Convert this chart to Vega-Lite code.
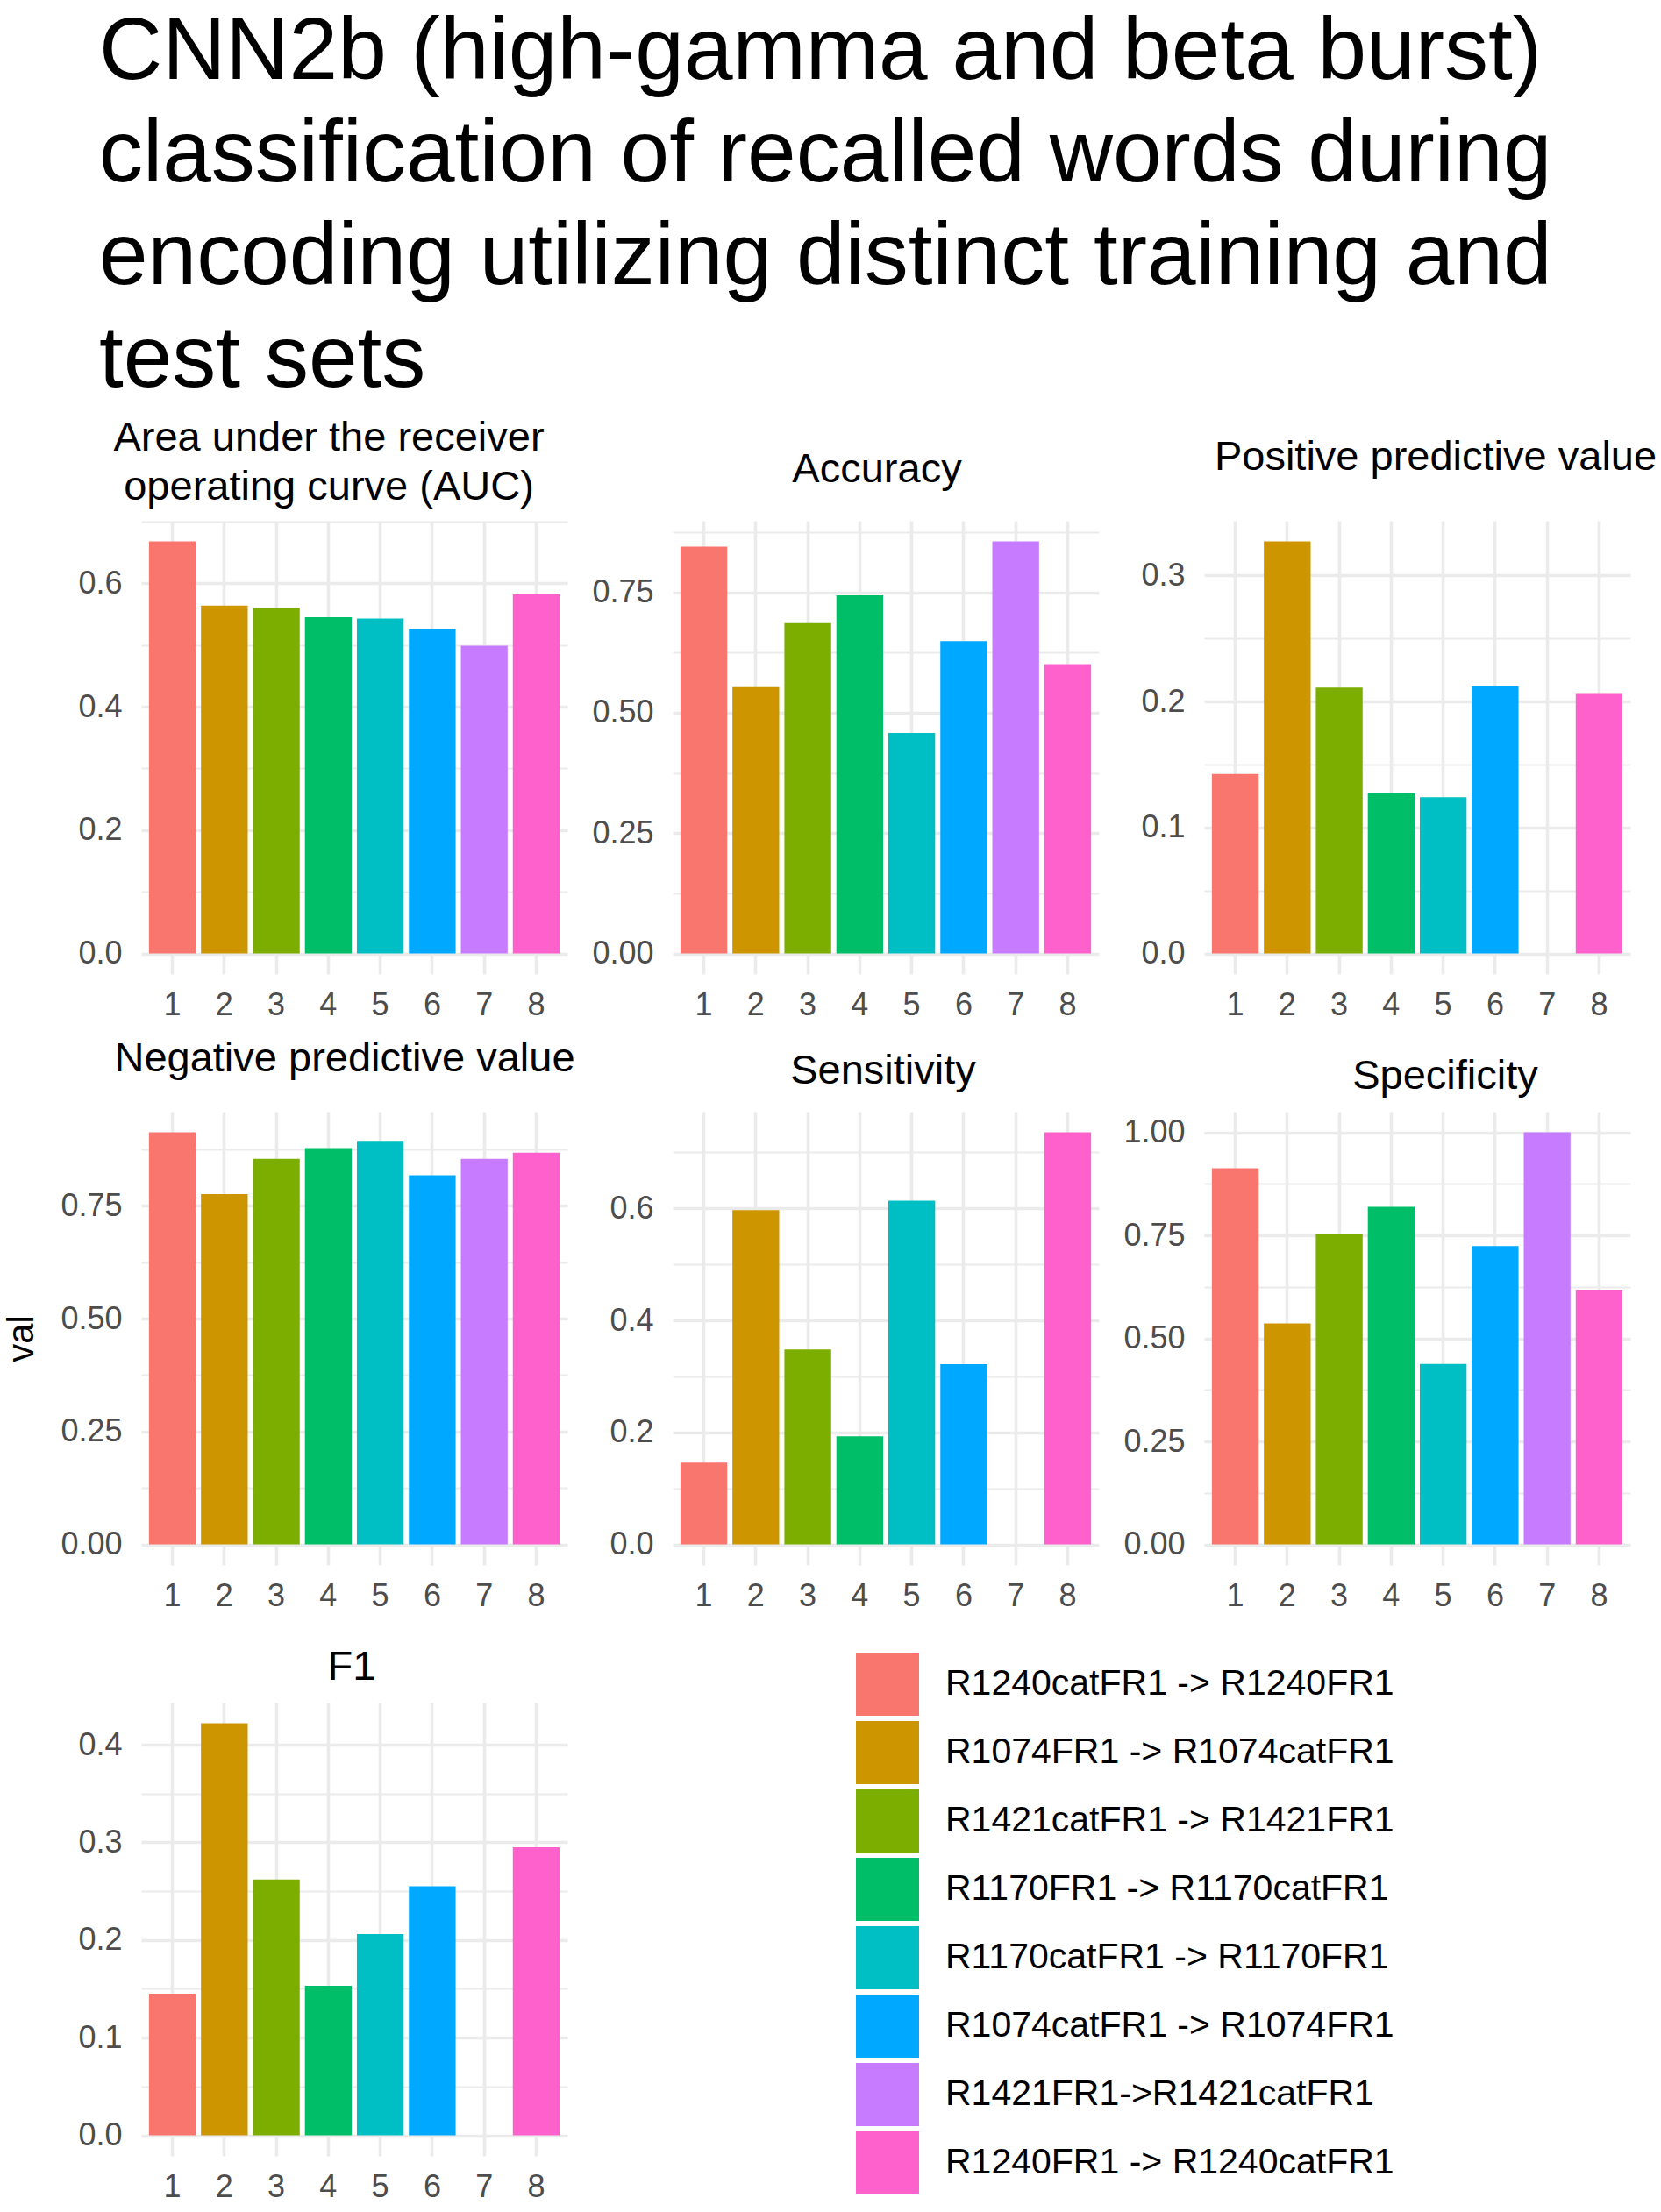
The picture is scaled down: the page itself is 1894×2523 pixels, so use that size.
{
  "$schema": "https://vega.github.io/schema/vega-lite/v6.json",
  "description": "CNN2b classification metrics per train/test pair, seven bar panels with a shared colour legend.",
  "background": "white",
  "padding": {"left": 3, "top": 10, "right": 0, "bottom": 0},
  "title": {
    "text": ["CNN2b (high-gamma and beta burst)", "classification of recalled words during", "encoding utilizing distinct training and", "test sets"],
    "fontSize": 100,
    "lineHeight": 117,
    "font": "Liberation Sans",
    "fontWeight": "normal",
    "color": "black",
    "anchor": "start",
    "offset": 14,
    "dx": 109
  },
  "data": {
    "values": [
      {"metric": "AUC", "id": 1, "group": "R1240catFR1 -> R1240FR1", "val": 0.668},
      {"metric": "AUC", "id": 2, "group": "R1074FR1 -> R1074catFR1", "val": 0.564},
      {"metric": "AUC", "id": 3, "group": "R1421catFR1 -> R1421FR1", "val": 0.560},
      {"metric": "AUC", "id": 4, "group": "R1170FR1 -> R1170catFR1", "val": 0.545},
      {"metric": "AUC", "id": 5, "group": "R1170catFR1 -> R1170FR1", "val": 0.543},
      {"metric": "AUC", "id": 6, "group": "R1074catFR1 -> R1074FR1", "val": 0.526},
      {"metric": "AUC", "id": 7, "group": "R1421FR1->R1421catFR1", "val": 0.499},
      {"metric": "AUC", "id": 8, "group": "R1240FR1 -> R1240catFR1", "val": 0.582},
      {"metric": "Accuracy", "id": 1, "group": "R1240catFR1 -> R1240FR1", "val": 0.845},
      {"metric": "Accuracy", "id": 2, "group": "R1074FR1 -> R1074catFR1", "val": 0.553},
      {"metric": "Accuracy", "id": 3, "group": "R1421catFR1 -> R1421FR1", "val": 0.686},
      {"metric": "Accuracy", "id": 4, "group": "R1170FR1 -> R1170catFR1", "val": 0.744},
      {"metric": "Accuracy", "id": 5, "group": "R1170catFR1 -> R1170FR1", "val": 0.458},
      {"metric": "Accuracy", "id": 6, "group": "R1074catFR1 -> R1074FR1", "val": 0.649},
      {"metric": "Accuracy", "id": 7, "group": "R1421FR1->R1421catFR1", "val": 0.856},
      {"metric": "Accuracy", "id": 8, "group": "R1240FR1 -> R1240catFR1", "val": 0.601},
      {"metric": "PPV", "id": 1, "group": "R1240catFR1 -> R1240FR1", "val": 0.1425},
      {"metric": "PPV", "id": 2, "group": "R1074FR1 -> R1074catFR1", "val": 0.327},
      {"metric": "PPV", "id": 3, "group": "R1421catFR1 -> R1421FR1", "val": 0.211},
      {"metric": "PPV", "id": 4, "group": "R1170FR1 -> R1170catFR1", "val": 0.127},
      {"metric": "PPV", "id": 5, "group": "R1170catFR1 -> R1170FR1", "val": 0.124},
      {"metric": "PPV", "id": 6, "group": "R1074catFR1 -> R1074FR1", "val": 0.212},
      {"metric": "PPV", "id": 7, "group": "R1421FR1->R1421catFR1", "val": 0},
      {"metric": "PPV", "id": 8, "group": "R1240FR1 -> R1240catFR1", "val": 0.206},
      {"metric": "NPV", "id": 1, "group": "R1240catFR1 -> R1240FR1", "val": 0.913},
      {"metric": "NPV", "id": 2, "group": "R1074FR1 -> R1074catFR1", "val": 0.776},
      {"metric": "NPV", "id": 3, "group": "R1421catFR1 -> R1421FR1", "val": 0.854},
      {"metric": "NPV", "id": 4, "group": "R1170FR1 -> R1170catFR1", "val": 0.878},
      {"metric": "NPV", "id": 5, "group": "R1170catFR1 -> R1170FR1", "val": 0.894},
      {"metric": "NPV", "id": 6, "group": "R1074catFR1 -> R1074FR1", "val": 0.818},
      {"metric": "NPV", "id": 7, "group": "R1421FR1->R1421catFR1", "val": 0.854},
      {"metric": "NPV", "id": 8, "group": "R1240FR1 -> R1240catFR1", "val": 0.868},
      {"metric": "Sensitivity", "id": 1, "group": "R1240catFR1 -> R1240FR1", "val": 0.146},
      {"metric": "Sensitivity", "id": 2, "group": "R1074FR1 -> R1074catFR1", "val": 0.597},
      {"metric": "Sensitivity", "id": 3, "group": "R1421catFR1 -> R1421FR1", "val": 0.348},
      {"metric": "Sensitivity", "id": 4, "group": "R1170FR1 -> R1170catFR1", "val": 0.193},
      {"metric": "Sensitivity", "id": 5, "group": "R1170catFR1 -> R1170FR1", "val": 0.614},
      {"metric": "Sensitivity", "id": 6, "group": "R1074catFR1 -> R1074FR1", "val": 0.322},
      {"metric": "Sensitivity", "id": 7, "group": "R1421FR1->R1421catFR1", "val": 0},
      {"metric": "Sensitivity", "id": 8, "group": "R1240FR1 -> R1240catFR1", "val": 0.736},
      {"metric": "Specificity", "id": 1, "group": "R1240catFR1 -> R1240FR1", "val": 0.913},
      {"metric": "Specificity", "id": 2, "group": "R1074FR1 -> R1074catFR1", "val": 0.536},
      {"metric": "Specificity", "id": 3, "group": "R1421catFR1 -> R1421FR1", "val": 0.752},
      {"metric": "Specificity", "id": 4, "group": "R1170FR1 -> R1170catFR1", "val": 0.819},
      {"metric": "Specificity", "id": 5, "group": "R1170catFR1 -> R1170FR1", "val": 0.438},
      {"metric": "Specificity", "id": 6, "group": "R1074catFR1 -> R1074FR1", "val": 0.724},
      {"metric": "Specificity", "id": 7, "group": "R1421FR1->R1421catFR1", "val": 1.0},
      {"metric": "Specificity", "id": 8, "group": "R1240FR1 -> R1240catFR1", "val": 0.618},
      {"metric": "F1", "id": 1, "group": "R1240catFR1 -> R1240FR1", "val": 0.145},
      {"metric": "F1", "id": 2, "group": "R1074FR1 -> R1074catFR1", "val": 0.422},
      {"metric": "F1", "id": 3, "group": "R1421catFR1 -> R1421FR1", "val": 0.262},
      {"metric": "F1", "id": 4, "group": "R1170FR1 -> R1170catFR1", "val": 0.153},
      {"metric": "F1", "id": 5, "group": "R1170catFR1 -> R1170FR1", "val": 0.206},
      {"metric": "F1", "id": 6, "group": "R1074catFR1 -> R1074FR1", "val": 0.255},
      {"metric": "F1", "id": 7, "group": "R1421FR1->R1421catFR1", "val": 0},
      {"metric": "F1", "id": 8, "group": "R1240FR1 -> R1240catFR1", "val": 0.295}
    ]
  },
  "columns": 3,
  "bounds": "flush",
  "spacing": {"column": 120, "row": 157},
  "resolve": {"scale": {"y": "independent", "color": "shared"}},
  "concat": [
    {
      "width": 486, "height": 517,
      "title": {"text": ["Area under the receiver", "operating curve (AUC)"], "offset": 14, "dx": -29},
      "transform": [{"filter": "datum.metric === 'AUC'"}],
      "mark": "bar",
      "encoding": {
        "x": {"field": "id", "type": "ordinal", "scale": {"paddingInner": 0.1, "paddingOuter": 0.15}},
        "y": {
          "field": "val", "type": "quantitative",
          "scale": {"domain": [-0.0334, 0.7014], "nice": false, "zero": false},
          "axis": {
            "values": [0, 0.1, 0.2, 0.3, 0.4, 0.5, 0.6, 0.7],
            "labelExpr": "abs(datum.value/0.2 - round(datum.value/0.2)) < 0.001 ? format(datum.value, '.1f') : ''",
            "gridWidth": {"condition": {"test": "abs(datum.value/0.2 - round(datum.value/0.2)) < 0.001", "value": 3.6}, "value": 1.8}
          }
        },
        "y2": {"datum": 0},
        "color": {"field": "group", "type": "nominal"}
      }
    },
    {
      "width": 486, "height": 517,
      "title": {"text": "Accuracy", "offset": 34, "dx": -10},
      "transform": [{"filter": "datum.metric === 'Accuracy'"}],
      "mark": "bar",
      "encoding": {
        "x": {"field": "id", "type": "ordinal", "scale": {"paddingInner": 0.1, "paddingOuter": 0.15}},
        "y": {
          "field": "val", "type": "quantitative",
          "scale": {"domain": [-0.0428, 0.8988], "nice": false, "zero": false},
          "axis": {
            "values": [0, 0.125, 0.25, 0.375, 0.5, 0.625, 0.75, 0.875],
            "labelExpr": "abs(datum.value/0.25 - round(datum.value/0.25)) < 0.001 ? format(datum.value, '.2f') : ''",
            "gridWidth": {"condition": {"test": "abs(datum.value/0.25 - round(datum.value/0.25)) < 0.001", "value": 3.6}, "value": 1.8}
          }
        },
        "y2": {"datum": 0},
        "color": {"field": "group", "type": "nominal"}
      }
    },
    {
      "width": 486, "height": 517,
      "title": {"text": "Positive predictive value", "offset": 48, "dx": 21},
      "transform": [{"filter": "datum.metric === 'PPV'"}],
      "mark": "bar",
      "encoding": {
        "x": {"field": "id", "type": "ordinal", "scale": {"paddingInner": 0.1, "paddingOuter": 0.15}},
        "y": {
          "field": "val", "type": "quantitative",
          "scale": {"domain": [-0.01635, 0.34335], "nice": false, "zero": false},
          "axis": {
            "values": [0, 0.05, 0.1, 0.15, 0.2, 0.25, 0.3],
            "labelExpr": "abs(datum.value/0.1 - round(datum.value/0.1)) < 0.001 ? format(datum.value, '.1f') : ''",
            "gridWidth": {"condition": {"test": "abs(datum.value/0.1 - round(datum.value/0.1)) < 0.001", "value": 3.6}, "value": 1.8}
          }
        },
        "y2": {"datum": 0},
        "color": {"field": "group", "type": "nominal"}
      }
    },
    {
      "width": 486, "height": 517,
      "title": {"text": "Negative predictive value", "offset": 36, "dx": -11},
      "transform": [{"filter": "datum.metric === 'NPV'"}],
      "mark": "bar",
      "encoding": {
        "x": {"field": "id", "type": "ordinal", "scale": {"paddingInner": 0.1, "paddingOuter": 0.15}},
        "y": {
          "field": "val", "type": "quantitative",
          "scale": {"domain": [-0.04565, 0.95865], "nice": false, "zero": false},
          "axis": {
            "title": "val",
            "values": [0, 0.125, 0.25, 0.375, 0.5, 0.625, 0.75, 0.875],
            "labelExpr": "abs(datum.value/0.25 - round(datum.value/0.25)) < 0.001 ? format(datum.value, '.2f') : ''",
            "gridWidth": {"condition": {"test": "abs(datum.value/0.25 - round(datum.value/0.25)) < 0.001", "value": 3.6}, "value": 1.8}
          }
        },
        "y2": {"datum": 0},
        "color": {"field": "group", "type": "nominal"}
      }
    },
    {
      "width": 486, "height": 517,
      "title": {"text": "Sensitivity", "offset": 22, "dx": -3},
      "transform": [{"filter": "datum.metric === 'Sensitivity'"}],
      "mark": "bar",
      "encoding": {
        "x": {"field": "id", "type": "ordinal", "scale": {"paddingInner": 0.1, "paddingOuter": 0.15}},
        "y": {
          "field": "val", "type": "quantitative",
          "scale": {"domain": [-0.0368, 0.7728], "nice": false, "zero": false},
          "axis": {
            "values": [0, 0.1, 0.2, 0.3, 0.4, 0.5, 0.6, 0.7],
            "labelExpr": "abs(datum.value/0.2 - round(datum.value/0.2)) < 0.001 ? format(datum.value, '.1f') : ''",
            "gridWidth": {"condition": {"test": "abs(datum.value/0.2 - round(datum.value/0.2)) < 0.001", "value": 3.6}, "value": 1.8}
          }
        },
        "y2": {"datum": 0},
        "color": {"field": "group", "type": "nominal"}
      }
    },
    {
      "width": 486, "height": 517,
      "title": {"text": "Specificity", "offset": 16, "dx": 32},
      "transform": [{"filter": "datum.metric === 'Specificity'"}],
      "mark": "bar",
      "encoding": {
        "x": {"field": "id", "type": "ordinal", "scale": {"paddingInner": 0.1, "paddingOuter": 0.15}},
        "y": {
          "field": "val", "type": "quantitative",
          "scale": {"domain": [-0.05, 1.05], "nice": false, "zero": false},
          "axis": {
            "values": [0, 0.125, 0.25, 0.375, 0.5, 0.625, 0.75, 0.875, 1],
            "labelExpr": "abs(datum.value/0.25 - round(datum.value/0.25)) < 0.001 ? format(datum.value, '.2f') : ''",
            "gridWidth": {"condition": {"test": "abs(datum.value/0.25 - round(datum.value/0.25)) < 0.001", "value": 3.6}, "value": 1.8}
          }
        },
        "y2": {"datum": 0},
        "color": {"field": "group", "type": "nominal"}
      }
    },
    {
      "width": 486, "height": 517,
      "title": {"text": "F1", "offset": 16, "dx": -3},
      "transform": [{"filter": "datum.metric === 'F1'"}],
      "mark": "bar",
      "encoding": {
        "x": {"field": "id", "type": "ordinal", "scale": {"paddingInner": 0.1, "paddingOuter": 0.15}},
        "y": {
          "field": "val", "type": "quantitative",
          "scale": {"domain": [-0.0211, 0.4431], "nice": false, "zero": false},
          "axis": {
            "values": [0, 0.05, 0.1, 0.15, 0.2, 0.25, 0.3, 0.35, 0.4],
            "labelExpr": "abs(datum.value/0.1 - round(datum.value/0.1)) < 0.001 ? format(datum.value, '.1f') : ''",
            "gridWidth": {"condition": {"test": "abs(datum.value/0.1 - round(datum.value/0.1)) < 0.001", "value": 3.6}, "value": 1.8}
          }
        },
        "y2": {"datum": 0},
        "color": {
          "field": "group", "type": "nominal",
          "scale": {
            "domain": ["R1240catFR1 -> R1240FR1", "R1074FR1 -> R1074catFR1", "R1421catFR1 -> R1421FR1", "R1170FR1 -> R1170catFR1", "R1170catFR1 -> R1170FR1", "R1074catFR1 -> R1074FR1", "R1421FR1->R1421catFR1", "R1240FR1 -> R1240catFR1"],
            "range": ["#F8766D", "#CD9600", "#7CAE00", "#00BE67", "#00BFC4", "#00A9FF", "#C77CFF", "#FF61CC"]
          },
          "legend": {
            "orient": "none",
            "legendX": 815,
            "legendY": 1291,
            "title": null,
            "symbolType": "square",
            "symbolSize": 5184,
            "symbolStrokeWidth": 0,
            "symbolOpacity": 1,
            "labelFontSize": 41,
            "labelFont": "Liberation Sans",
            "labelColor": "black",
            "labelLimit": 0,
            "labelOffset": 30,
            "rowPadding": 6,
            "padding": 0
          }
        }
      }
    }
  ],
  "config": {
    "font": "Liberation Sans",
    "view": {"stroke": null},
    "title": {"fontSize": 47, "font": "Liberation Sans", "fontWeight": "normal", "color": "black", "anchor": "middle", "lineHeight": 56},
    "bar": {"opacity": 1},
    "axis": {
      "domain": false,
      "ticks": false,
      "gridColor": "#ebebeb",
      "labelColor": "#4d4d4d",
      "labelFont": "Liberation Sans",
      "labelFontSize": 36,
      "titleFont": "Liberation Sans",
      "titleFontSize": 42,
      "titleFontWeight": "normal",
      "titleColor": "black"
    },
    "axisX": {"title": null, "labelAngle": 0, "labelPadding": 18, "grid": true, "bandPosition": 0.5, "gridWidth": 3.6},
    "axisY": {"title": null, "labelPadding": 22, "titlePadding": 22, "grid": true}
  }
}
